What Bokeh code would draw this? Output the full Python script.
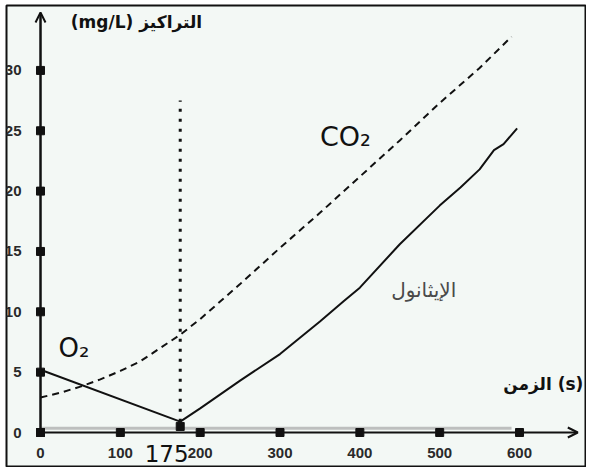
from bokeh.plotting import figure
from bokeh.models import Range1d, FixedTicker, Arrow, OpenHead
from bokeh.core.properties import value
from bokeh.embed import file_html
from bokeh.resources import INLINE

# ---- data ----
x_ticks = [0, 100, 200, 300, 400, 500, 600]
y_ticks = [0, 5, 10, 15, 20, 25, 30]

o2_t = [0, 175]
o2_c = [5.2, 0.9]

co2_t = [0, 25, 50, 75, 100, 125, 150, 175, 200, 250, 300, 350, 400, 450, 500, 550, 590]
co2_c = [2.9, 3.3, 3.8, 4.4, 5.1, 5.9, 7.0, 8.1, 9.4, 12.3, 15.3, 18.2, 21.2, 24.2, 27.3, 30.2, 32.8]

eth_t = [175, 200, 250, 300, 350, 380, 400, 450, 500, 526, 550, 568, 580, 597]
eth_c = [0.9, 2.0, 4.3, 6.5, 9.2, 10.9, 12.0, 15.6, 18.8, 20.3, 21.8, 23.4, 23.9, 25.2]

t_mark = 175
t_mark_top = 27.5

p = figure(width=586, height=467, output_backend="svg", toolbar_location=None,
           x_range=Range1d(-42.6, 683.9), y_range=Range1d(-2.90, 35.38),
           min_border=0, min_border_left=6, min_border_right=0,
           min_border_top=5, min_border_bottom=0)
p.background_fill_color = "#f3f8f5"
p.border_fill_color = "white"
p.outline_line_color = "#111111"
p.outline_line_width = 2
p.grid.visible = False

for ax in (p.xaxis[0], p.yaxis[0]):
    ax.fixed_location = 0
    ax.axis_line_alpha = 0
    ax.major_tick_out = 0
    ax.major_tick_in = 0
    ax.minor_tick_out = 0
    ax.minor_tick_in = 0
    ax.major_label_text_font = "Liberation Sans"
    ax.major_label_text_font_size = "15px"
    ax.major_label_text_color = "#2a2a2a"
    ax.major_label_text_font_style = "bold"
p.xaxis.ticker = FixedTicker(ticks=x_ticks)
p.yaxis.ticker = FixedTicker(ticks=y_ticks)
p.xaxis.major_label_standoff = 15
p.yaxis.major_label_standoff = 19

# faint double line along time axis
p.line([0, 590], [0.35, 0.35], line_color="#9a9a9a", line_width=3, line_alpha=0.6)

# axes arrows
p.add_layout(Arrow(end=OpenHead(size=10, line_width=2, line_color="#111111"),
                   x_start=0, y_start=0, x_end=673, y_end=0,
                   line_width=2, line_color="#111111"))
p.add_layout(Arrow(end=OpenHead(size=10, line_width=2, line_color="#111111"),
                   x_start=0, y_start=0, x_end=0, y_end=34.8,
                   line_width=2.5, line_color="#111111"))

# tick markers
p.scatter(x_ticks, [0] * len(x_ticks), marker="square", size=8, color="#111111")
p.scatter([0] * len(y_ticks), y_ticks, marker="square", size=8, color="#111111")

# curves
p.line(co2_t, co2_c, line_color="#111111", line_width=2, line_dash="7 5")
p.line(o2_t, o2_c, line_color="#111111", line_width=2)
p.line(eth_t, eth_c, line_color="#111111", line_width=2)
p.line([t_mark, t_mark], [o2_c[-1], t_mark_top], line_color="#111111",
       line_width=3, line_dash="3 7")
p.scatter([t_mark], [0.5], marker="square", size=8, color="#111111")

# labels
p.text(x=[42], y=[7.0], text=["O₂"], text_font=value("DejaVu Sans"),
       text_font_size="26px", text_align="center", text_baseline="middle", color="#111111")
p.text(x=[382], y=[24.5], text=["CO₂"], text_font=value("DejaVu Sans"),
       text_font_size="27px", text_align="center", text_baseline="middle", color="#111111")
p.text(x=[480], y=[11.8], text=["الإيثانول"], text_font=value("DejaVu Sans"),
       text_font_size="20px", text_align="center", text_baseline="middle", color="#4a4a4a")
p.text(x=[158], y=[-1.7], text=["175"], text_font=value("DejaVu Sans"),
       text_font_size="23px", text_align="center", text_baseline="middle", color="#111111")
p.text(x=[38], y=[34.0], text=["(mg/L) التراكيز"], text_font=value("DejaVu Sans"),
       text_font_size="17px", text_font_style="bold", text_align="left",
       text_baseline="middle", color="#111111")
p.text(x=[680], y=[4.06], text=["الزمن (s)"], text_font=value("DejaVu Sans"),
       text_font_size="17px", text_font_style="bold", text_align="right",
       text_baseline="middle", color="#111111")

open("out.html", "w").write(file_html(p, INLINE))
